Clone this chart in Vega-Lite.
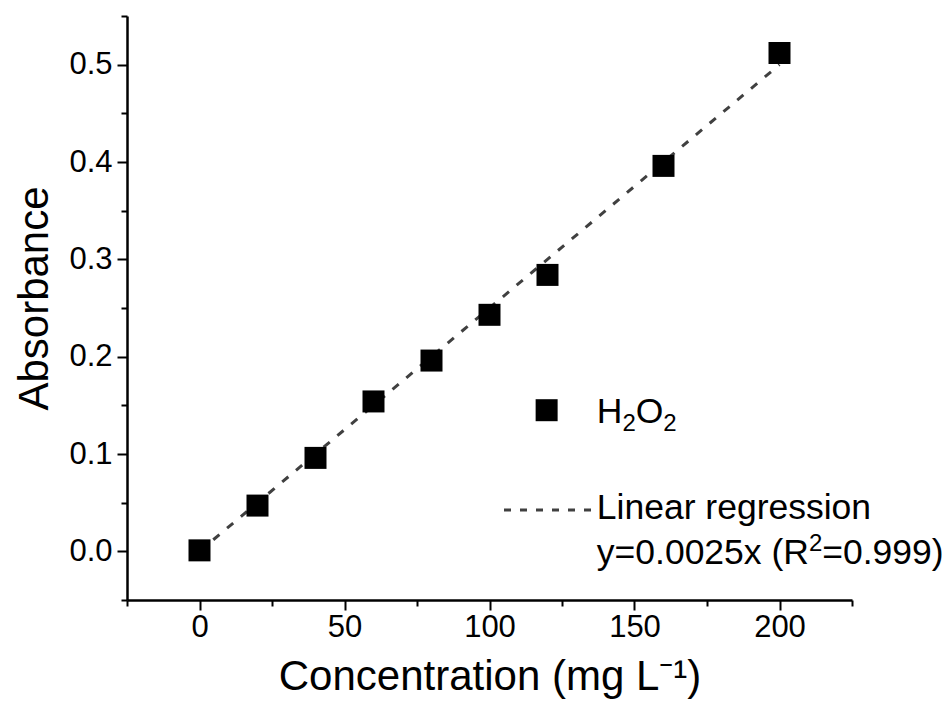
{
  "$schema": "https://vega.github.io/schema/vega-lite/v6.json",
  "width": 725,
  "height": 584,
  "autosize": "none",
  "padding": {"left": 127, "top": 16, "right": 95, "bottom": 111},
  "background": "white",
  "config": {
    "view": {"stroke": null},
    "font": "Liberation Sans",
    "axis": {
      "grid": false,
      "domainColor": "black",
      "domainWidth": 2.5,
      "tickColor": "black",
      "tickWidth": 2,
      "labelColor": "black",
      "titleColor": "black",
      "labelFont": "Liberation Sans",
      "titleFont": "Liberation Sans",
      "labelFontSize": 31,
      "titleFontSize": 42,
      "titleFontWeight": "normal",
      "labelOverlap": false,
      "labelFlush": false,
      "labelBound": false
    }
  },
  "datasets": {
    "points": [
      {"conc": 0, "abs": 0.001},
      {"conc": 20, "abs": 0.047},
      {"conc": 40, "abs": 0.096},
      {"conc": 60, "abs": 0.154},
      {"conc": 80, "abs": 0.196},
      {"conc": 100, "abs": 0.243},
      {"conc": 120, "abs": 0.284},
      {"conc": 160, "abs": 0.396},
      {"conc": 200, "abs": 0.512}
    ],
    "fit": [{"conc": 0, "abs": 0}, {"conc": 200, "abs": 0.5}],
    "legendLine": [{"conc": 105, "abs": 0.0425}, {"conc": 136, "abs": 0.0425}],
    "legendSym": [{"conc": 119.7, "abs": 0.145}],
    "legendText": [
      {"conc": 137, "abs": 0.1319, "label": "H"},
      {"conc": 150.43, "abs": 0.1319, "label": "O"},
      {"conc": 137, "abs": 0.0332, "label": "Linear regression"},
      {"conc": 137, "abs": -0.0127, "label": "y=0.0025x (R"},
      {"conc": 214.74, "abs": -0.0127, "label": "=0.999)"}
    ],
    "legendSmall": [
      {"conc": 145.83, "abs": 0.1237, "label": "2"},
      {"conc": 159.95, "abs": 0.1237, "label": "2"},
      {"conc": 210.14, "abs": 0.0007, "label": "2"}
    ]
  },
  "layer": [
    {
      "data": {"name": "fit"},
      "mark": {"type": "line", "color": "#404040", "strokeWidth": 3, "strokeDash": [8, 10]},
      "encoding": {
        "x": {
          "field": "conc", "type": "quantitative",
          "scale": {"domain": [-25, 225], "nice": false, "zero": false},
          "axis": {
            "title": "Concentration (mg L⁻¹)",
            "values": [-25, 0, 25, 50, 75, 100, 125, 150, 175, 200, 225],
            "labelExpr": "datum.value % 50 === 0 ? datum.label : ''",
            "tickSize": {"condition": {"test": "datum.value % 50 === 0", "value": 10}, "value": 6},
            "labelPadding": 2,
            "titlePadding": 14
          }
        },
        "y": {
          "field": "abs", "type": "quantitative",
          "scale": {"domain": [-0.05, 0.55], "nice": false, "zero": false},
          "axis": {
            "title": "Absorbance",
            "values": [-0.05, 0, 0.05, 0.1, 0.15, 0.2, 0.25, 0.3, 0.35, 0.4, 0.45, 0.5, 0.55],
            "format": ".1f",
            "labelExpr": "abs(datum.value*10 - round(datum.value*10)) < 0.001 ? datum.label : ''",
            "tickSize": {"condition": {"test": "abs(datum.value*10 - round(datum.value*10)) < 0.001", "value": 10}, "value": 6},
            "labelPadding": 5,
            "titlePadding": 12,
            "titleY": 282
          }
        }
      }
    },
    {
      "data": {"name": "points"},
      "mark": {"type": "point", "shape": "square", "filled": true, "color": "black", "size": 484, "opacity": 1},
      "encoding": {
        "x": {"field": "conc", "type": "quantitative"},
        "y": {"field": "abs", "type": "quantitative"}
      }
    },
    {
      "data": {"name": "legendLine"},
      "mark": {"type": "line", "color": "#404040", "strokeWidth": 3, "strokeDash": [7, 9]},
      "encoding": {
        "x": {"field": "conc", "type": "quantitative"},
        "y": {"field": "abs", "type": "quantitative"}
      }
    },
    {
      "data": {"name": "legendSym"},
      "mark": {"type": "point", "shape": "square", "filled": true, "color": "black", "size": 484, "opacity": 1},
      "encoding": {
        "x": {"field": "conc", "type": "quantitative"},
        "y": {"field": "abs", "type": "quantitative"}
      }
    },
    {
      "data": {"name": "legendText"},
      "mark": {"type": "text", "align": "left", "baseline": "alphabetic", "fontSize": 35.5, "font": "Liberation Sans", "color": "black"},
      "encoding": {
        "x": {"field": "conc", "type": "quantitative"},
        "y": {"field": "abs", "type": "quantitative"},
        "text": {"field": "label"}
      }
    },
    {
      "data": {"name": "legendSmall"},
      "mark": {"type": "text", "align": "left", "baseline": "alphabetic", "fontSize": 24, "font": "Liberation Sans", "color": "black"},
      "encoding": {
        "x": {"field": "conc", "type": "quantitative"},
        "y": {"field": "abs", "type": "quantitative"},
        "text": {"field": "label"}
      }
    }
  ]
}
